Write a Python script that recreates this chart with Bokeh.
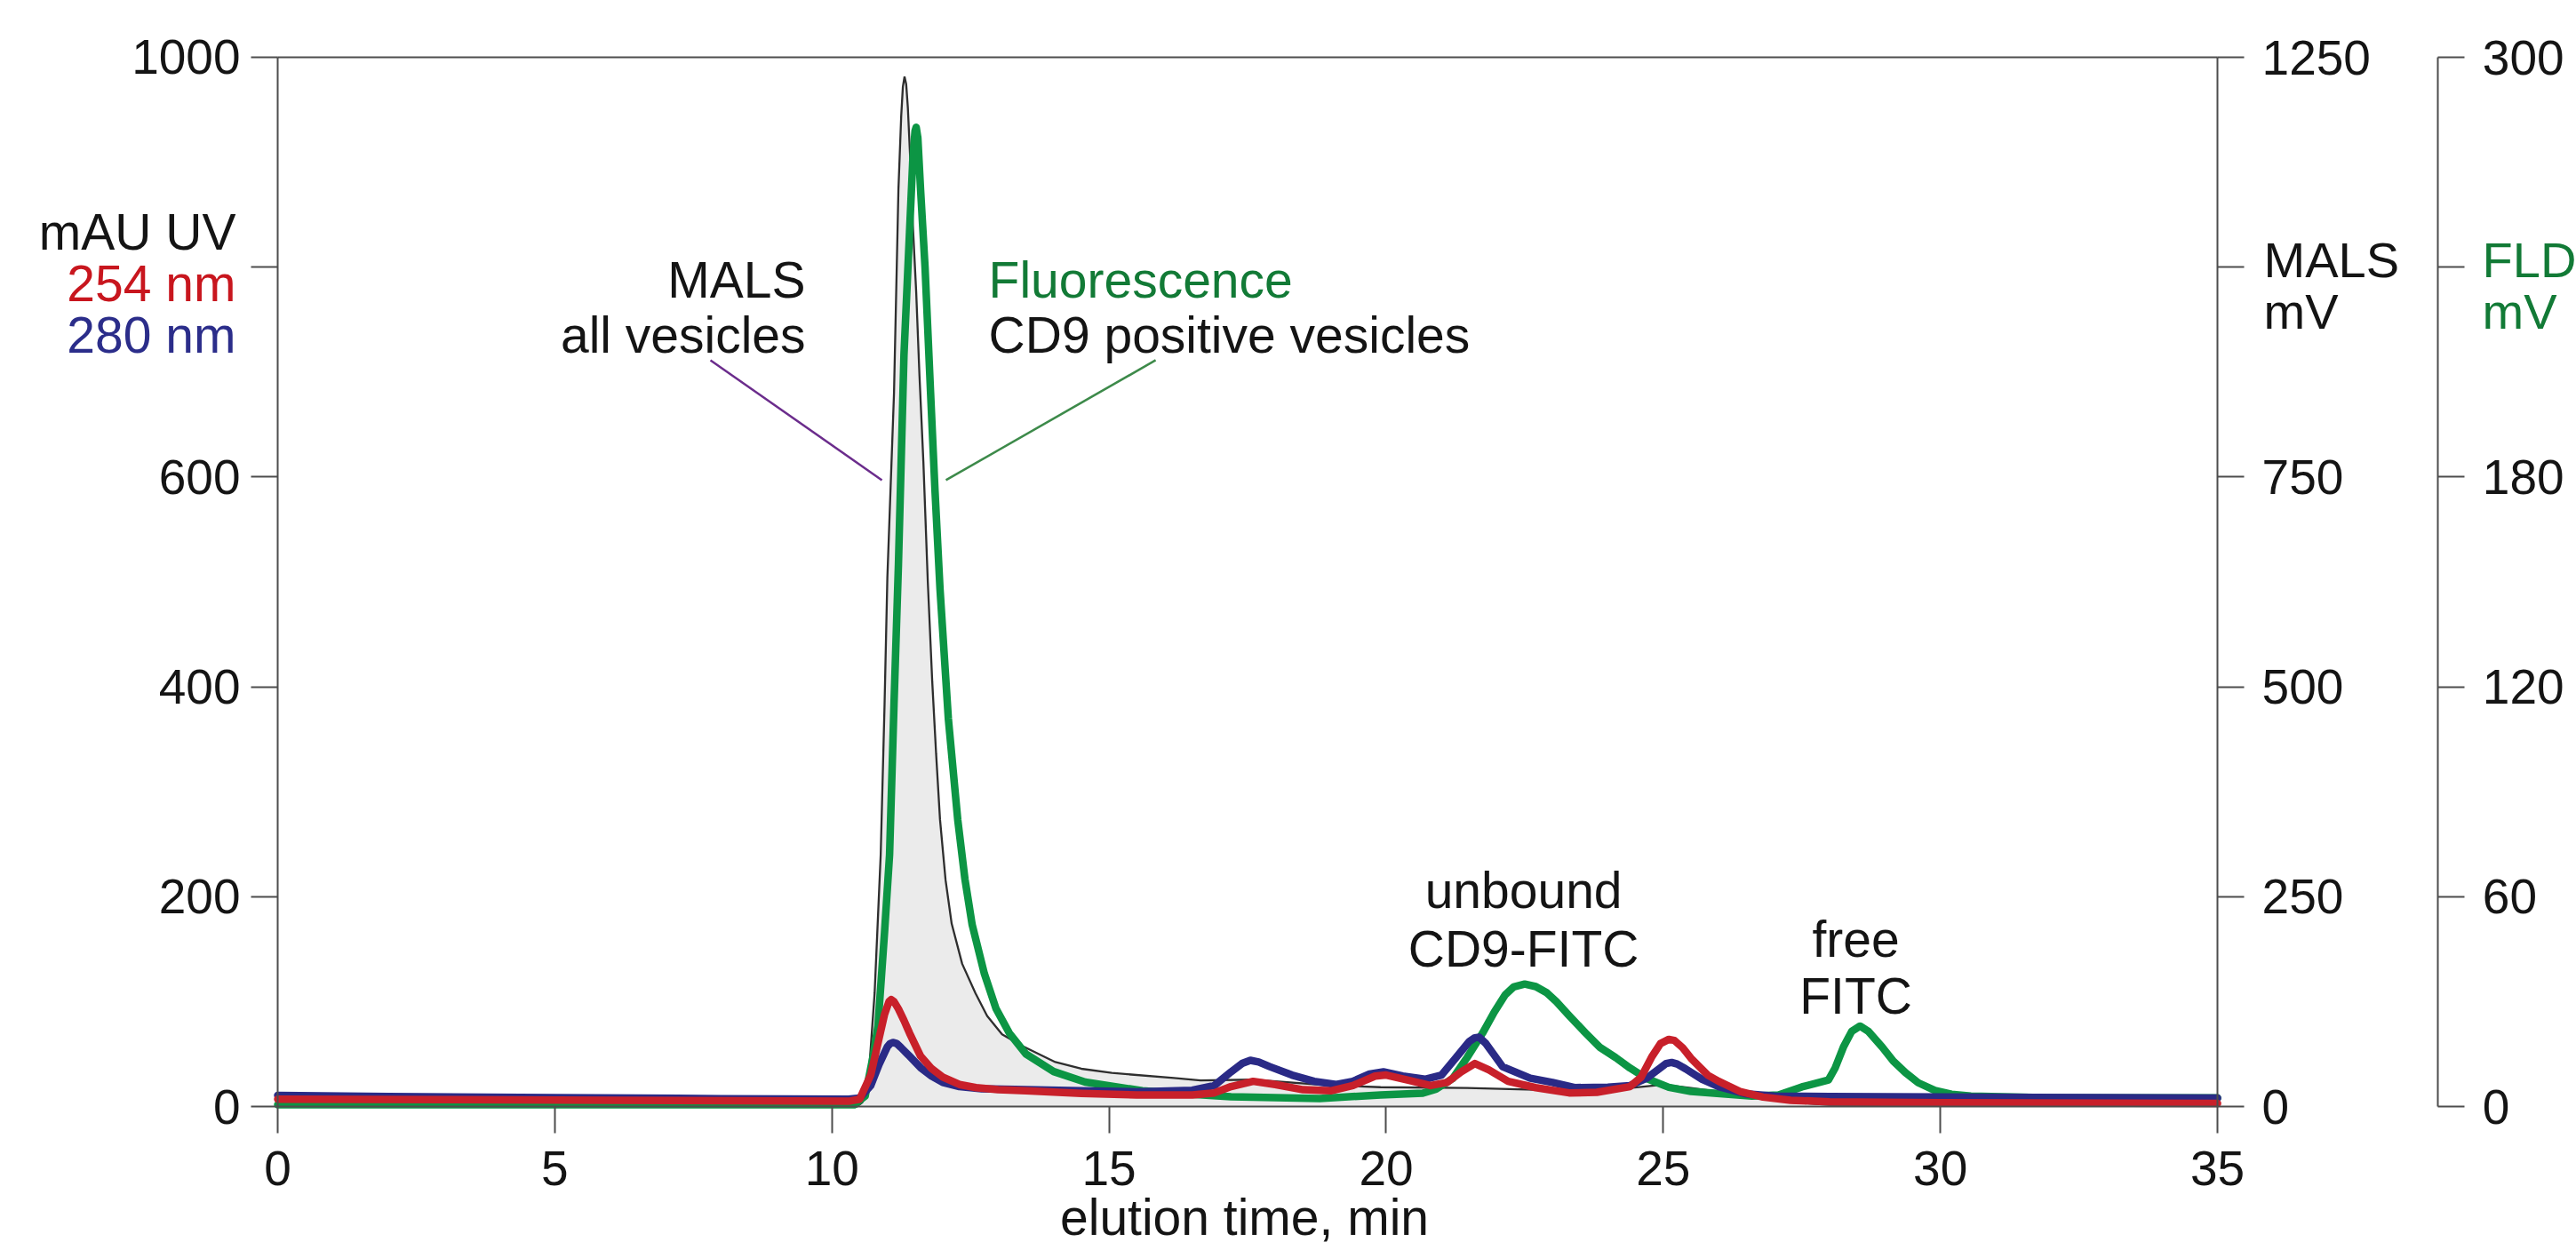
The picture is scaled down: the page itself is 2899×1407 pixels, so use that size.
from bokeh.plotting import figure
from bokeh.models import Range1d, LinearAxis, FixedTicker, Label
from bokeh.embed import file_html
from bokeh.resources import INLINE

# ---------------- data ----------------
# MALS light scattering, mV (right axis 1)
mals_t = [0, 5, 10.45, 10.55, 10.66, 10.77, 10.88, 10.95, 11.0, 11.06, 11.12, 11.2, 11.25, 11.28,
          11.31, 11.34, 11.37, 11.41, 11.46, 11.52, 11.58, 11.65, 11.73, 11.81, 11.88, 11.95,
          12.05, 12.16, 12.35, 12.59, 12.8, 13.07, 13.44, 14.03, 14.5, 15.05, 16.17, 16.65,
          17.58, 18.8, 19.9, 21.46, 23.3, 24.4, 25.0, 25.5, 25.86, 26.2, 26.6, 27.0, 27.3,
          28.0, 35.0]
mals_v = [0, 0, 0, 5, 33, 135, 300, 480, 630, 740, 850, 1093, 1180, 1215,
          1227, 1218, 1190, 1133, 1050, 971, 870, 768, 625, 506, 420, 342,
          270, 218, 170, 135, 108, 86, 72, 53, 45, 40, 34, 31,
          32, 26, 23, 22, 19, 22, 26, 22, 19, 16, 12, 8, 5,
          2, 1]

# Fluorescence detector, mV (right axis 2)
fld_t = [0, 5, 10.4, 10.6, 10.75, 10.83, 10.95, 11.04, 11.12, 11.2, 11.3, 11.4, 11.46, 11.5,
         11.52, 11.55, 11.6, 11.68, 11.78, 11.86, 11.95, 12.1, 12.27, 12.4, 12.53, 12.75,
         12.96, 13.2, 13.5, 14.0, 14.57, 15.6, 16.5, 17.2, 18.8, 19.9, 20.66, 20.9, 21.2,
         21.46, 21.74, 21.95, 22.15, 22.3, 22.5, 22.7, 22.9, 23.07, 23.3, 23.6, 23.85, 24.14,
         24.4, 24.7, 25.1, 25.5, 26.6, 27.08, 27.5, 27.98, 28.1, 28.25, 28.4, 28.55, 28.7,
         28.95, 29.15, 29.37, 29.6, 29.9, 30.2, 30.55, 32.0, 35.0]
fld_v = [0.5, 0.5, 0.5, 3, 15, 23, 50, 72, 115, 155, 215, 250, 271, 279,
         280, 277, 262, 240, 204, 176, 148, 111, 82, 65, 52, 38,
         28, 21, 15, 10, 7, 4.5, 3.5, 2.8, 2.3, 3.3, 3.8, 5, 8,
         14, 21, 27, 32, 34.2, 35, 34.3, 32.5, 30, 26, 21, 17, 14,
         11, 8, 5.5, 4.3, 3, 3.3, 5.6, 7.6, 11, 17, 21.5, 23, 21.5,
         17, 13, 9.7, 6.8, 4.6, 3.5, 3, 2.5, 2.5]

# UV 280 nm, mAU (left axis)
uv280_t = [0, 2, 5, 8, 10.3, 10.5, 10.7, 10.85, 11.0, 11.05, 11.1, 11.17, 11.25, 11.4, 11.6,
           11.8, 12.0, 12.3, 12.7, 13.5, 14.5, 15.5, 16.5, 16.9, 17.2, 17.4, 17.55, 17.7,
           17.9, 18.3, 18.7, 19.1, 19.4, 19.7, 19.95, 20.3, 20.7, 21.0, 21.25, 21.5, 21.6,
           21.68, 21.8, 21.95, 22.1, 22.6, 23.0, 23.4, 24.0, 24.4, 24.7, 24.95, 25.05, 25.15,
           25.25, 25.4, 25.7, 26.0, 26.5, 27.0, 28.0, 30.0, 33.0, 35.0]
uv280_v = [10.5, 9.5, 8.5, 7.5, 7, 8, 20, 40, 57, 60, 61, 60, 56, 48, 37,
           29, 23, 19, 17, 16, 15, 14, 15.5, 20, 33, 41, 44, 42.5,
           38, 30, 24, 21, 24, 31, 33, 29, 26, 30, 46, 62, 65.5,
           66, 60, 49, 38, 27, 23, 18, 18.5, 20, 27, 37, 41, 42,
           40.5, 36, 26, 19, 12, 10, 9.5, 9, 8.5, 8]

# UV 254 nm, mAU (left axis)
uv254_t = [0, 3, 6, 10.3, 10.5, 10.7, 10.85, 10.95, 11.03, 11.07, 11.12, 11.2, 11.3, 11.4, 11.6,
           11.8, 12.0, 12.3, 12.6, 13.0, 13.5, 14.5, 15.5, 16.5, 16.9, 17.2, 17.6, 18.0, 18.5,
           19.0, 19.4, 19.8, 20.0, 20.4, 20.8, 21.1, 21.35, 21.6, 21.85, 22.2, 22.7, 23.3, 23.8,
           24.4, 24.6, 24.8, 24.95, 25.1, 25.2, 25.35, 25.5, 25.8, 26.0, 26.4, 26.8, 27.3,
           28.0, 30.0, 35.0]
uv254_v = [7, 6.5, 6, 5, 7, 30, 65, 88, 100, 102, 100, 93, 82, 70, 48,
           36, 28, 21, 18, 16, 15, 12.5, 11, 11, 13, 19, 24, 21, 16,
           15, 20, 29, 30, 25, 20, 23, 33, 41, 35, 24, 18, 13, 13.5,
           19, 28, 48, 60, 64, 63, 56, 46, 30, 24, 14, 9, 6,
           4.5, 3.5, 3]

x_ticks = [0, 5, 10, 15, 20, 25, 30, 35]
uv_ticks = [0, 200, 400, 600, 800, 1000]
mals_ticks = [0, 250, 500, 750, 1000, 1250]
fld_ticks = [0, 60, 120, 180, 240, 300]

FONT = "Liberation Sans"
FS_TICK = "55px"
FS = "57px"
AXIS_COL = "#4d4d4d"
TXT = "#141414"

# the frame covers the whole canvas; axes sit at fixed data positions
p = figure(width=2899, height=1407, output_backend="svg", toolbar_location=None,
           x_axis_type=None, y_axis_type=None,
           x_range=Range1d(-5.0024, 41.4760), y_range=Range1d(-137.17, 1054.19),
           min_border=0, min_border_left=0, min_border_right=0,
           min_border_top=0, min_border_bottom=0)
p.extra_y_ranges = {"mals": Range1d(-171.46, 1317.74), "fld": Range1d(-41.15, 316.26)}
p.grid.visible = False
p.outline_line_color = None
p.background_fill_color = "white"
p.border_fill_color = "white"


def style_axis(ax, ticks, standoff, overrides=None):
    ax.ticker = FixedTicker(ticks=ticks)
    ax.major_tick_in = 0
    ax.major_tick_out = 30
    ax.major_tick_line_color = AXIS_COL
    ax.major_tick_line_width = 2
    ax.minor_tick_line_color = None
    ax.axis_line_color = AXIS_COL
    ax.axis_line_width = 2
    ax.major_label_text_font = FONT
    ax.major_label_text_font_size = FS_TICK
    ax.major_label_text_color = TXT
    ax.major_label_standoff = standoff
    if overrides:
        ax.major_label_overrides = overrides


ax_x = LinearAxis(fixed_location=0, bounds=(0, 35))
style_axis(ax_x, x_ticks, 20)
p.add_layout(ax_x, "below")

ax_top = LinearAxis(fixed_location=1000, bounds=(0, 35))
style_axis(ax_top, [], 10)
p.add_layout(ax_top, "above")

ax_uv = LinearAxis(fixed_location=0, bounds=(0, 1000))
style_axis(ax_uv, uv_ticks, 12, {800: ""})
p.add_layout(ax_uv, "left")

ax_mals = LinearAxis(y_range_name="mals", fixed_location=35, bounds=(0, 1250))
style_axis(ax_mals, mals_ticks, 20, {1000: ""})
p.add_layout(ax_mals, "right")

ax_fld = LinearAxis(y_range_name="fld", fixed_location=38.98, bounds=(0, 300))
style_axis(ax_fld, fld_ticks, 20, {240: ""})
p.add_layout(ax_fld, "right")

# ---------------- curves ----------------
p.varea(x=mals_t, y1=[0] * len(mals_t), y2=mals_v, fill_color="#ebebeb", y_range_name="mals")
p.line(mals_t, mals_v, line_color="#2e2e2e", line_width=2.3, y_range_name="mals")
p.line(fld_t, fld_v, line_color="#0c9544", line_width=8.5, y_range_name="fld",
       line_join="round", line_cap="round")
p.line(uv280_t, uv280_v, line_color="#2a2a86", line_width=8.5, line_join="round", line_cap="round")
p.line(uv254_t, uv254_v, line_color="#c8202a", line_width=8.5, line_join="round", line_cap="round")

# leader lines
p.segment(x0=[7.808], y0=[711.3], x1=[10.902], y1=[597.0], line_color="#6b2c8c", line_width=2.5)
p.segment(x0=[15.841], y0=[711.3], x1=[12.057], y1=[597.0], line_color="#3d8a4a", line_width=2.5)


def lab(x, y, text, color=TXT, align="left", size=FS):
    p.add_layout(Label(x=x, y=y, text=text, text_color=color, text_align=align,
                       text_baseline="alphabetic", text_font=FONT, text_font_size=size))


lab(9.524, 788.3, "MALS", align="right")
lab(9.524, 735.0, "all vesicles", align="right")
lab(12.827, 787.5, "Fluorescence", color="#127a36")
lab(12.827, 735.0, "CD9 positive vesicles")
lab(22.479, 205.8, "unbound", align="center")
lab(22.479, 149.9, "CD9-FITC", align="center")
lab(28.475, 159.2, "free", align="center")
lab(28.475, 105.0, "FITC", align="center")
lab(-0.754, 834.0, "mAU UV", align="right")
lab(-0.754, 784.9, "254 nm", color="#c8161e", align="right")
lab(-0.754, 735.0, "280 nm", color="#2b2d8a", align="right")
lab(35.834, 807.0, "MALS", size="56px")
lab(35.834, 757.8, "mV", size="56px")
lab(39.778, 807.0, "FLD", color="#127a36", size="56px")
lab(39.778, 757.8, "mV", color="#127a36", size="56px")
lab(17.444, -105.0, "elution time, min", align="center")

open("out.html", "w").write(file_html(p, INLINE))
